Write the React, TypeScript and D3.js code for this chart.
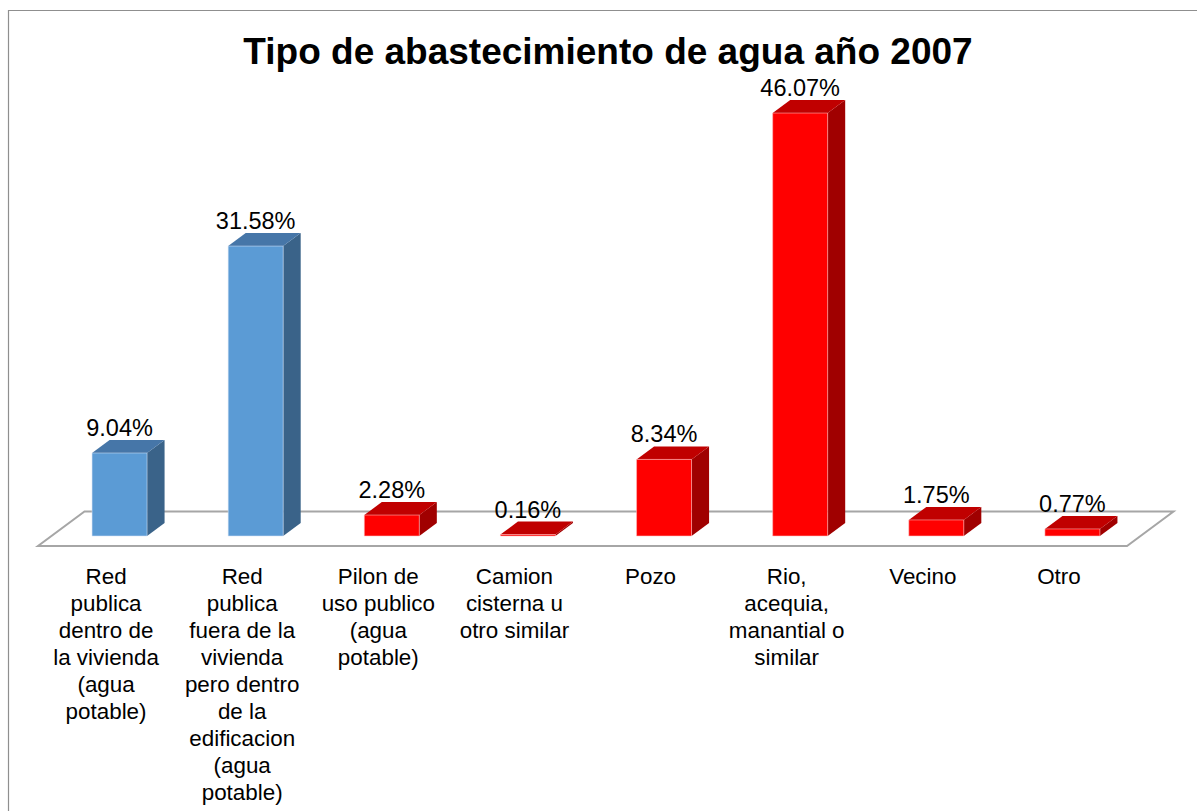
import * as d3 from 'd3'

const title = 'Tipo de abastecimiento de agua año 2007'

const categories = [
  'Red\npublica\ndentro de\nla vivienda\n(agua\npotable)',
  'Red\npublica\nfuera de la\nvivienda\npero dentro\nde la\nedificacion\n(agua\npotable)',
  'Pilon de\nuso publico\n(agua\npotable)',
  'Camion\ncisterna u\notro similar',
  'Pozo',
  'Rio,\nacequia,\nmanantial o\nsimilar',
  'Vecino',
  'Otro',
]

const values = [9.04, 31.58, 2.28, 0.16, 8.34, 46.07, 1.75, 0.77]

// first two are "red publica" (blue), the rest red
const groups = ['blue', 'blue', 'red', 'red', 'red', 'red', 'red', 'red']

const palette = {
  blue: { front: '#5B9BD5', top: '#4676A8', side: '#3A6389', edge: 'rgba(210,225,245,0.7)' },
  red: { front: '#FF0000', top: '#C00000', side: '#A00000', edge: 'rgba(255,190,190,0.7)' },
}

const W = 1197
const H = 811
const font = '"Liberation Sans", Arial, sans-serif'

export default function App() {
  // floor geometry
  const floorLeft = 38
  const floorRight = 1127
  const floorFront = 546
  const depthX = 46.5
  const depthY = -34.5
  // bar sits partway into the floor depth
  const barFrac = 0.29
  const barDepth = 0.377
  const shiftX = depthX * barFrac
  const baseY = floorFront + depthY * barFrac
  const bdx = depthX * barDepth
  const bdy = depthY * barDepth

  const x = d3.scaleBand<string>()
    .domain(categories)
    .range([floorLeft, floorRight])
    .paddingInner(0.596)
    .paddingOuter(0.298)

  const y = d3.scaleLinear().domain([0, 50]).range([baseY, baseY - 459])

  const step = x.step()
  const floorPath = d3.path()
  floorPath.moveTo(floorLeft, floorFront)
  floorPath.lineTo(floorRight, floorFront)
  floorPath.lineTo(floorRight + depthX, floorFront + depthY)
  floorPath.lineTo(floorLeft + depthX, floorFront + depthY)
  floorPath.closePath()

  return (
    <svg width={W} height={H} style={{ position: 'absolute', left: 0, top: 0, display: 'block' }}>
      <rect x={0} y={0} width={W} height={H} fill="#fff" />
      <path d={`M8.5,${H} V10.5 H${W}`} fill="none" stroke="#8f8f8f" strokeWidth={1.2} />

      <text x={608} y={64} textAnchor="middle" fontFamily={font} fontWeight="bold" fontSize={37} fill="#000">
        {title}
      </text>

      <path d={floorPath.toString()} fill="#fff" stroke="#a6a6a6" strokeWidth={2} strokeLinejoin="miter" />

      {categories.map((c, i) => {
        const col = palette[groups[i] as 'blue' | 'red']
        const x0 = (x(c) ?? 0) + shiftX
        const x1 = x0 + x.bandwidth()
        const yt = y(values[i])
        const yb = y(0)
        const front = `M${x0},${yb}H${x1}V${yt}H${x0}Z`
        const top = `M${x0},${yt}L${x0 + bdx},${yt + bdy}L${x1 + bdx},${yt + bdy}L${x1},${yt}Z`
        const side = `M${x1},${yb}L${x1 + bdx},${yb + bdy}L${x1 + bdx},${yt + bdy}L${x1},${yt}Z`
        return (
          <g key={c}>
            <path d={side} fill={col.side} />
            <path d={top} fill={col.top} />
            <path d={front} fill={col.front} stroke={col.edge} strokeWidth={0.8} />
          </g>
        )
      })}

      {categories.map((c, i) => {
        const cx = (x(c) ?? 0) + shiftX + x.bandwidth() / 2
        return (
          <text key={'v' + i} x={cx} y={y(values[i]) + bdy - 4} textAnchor="middle"
            fontFamily={font} fontSize={23.5} fill="#000">
            {values[i].toFixed(2) + '%'}
          </text>
        )
      })}

      {categories.map((c, i) => {
        const cx = floorLeft + step * (i + 0.5)
        const lines = c.split('\n')
        return (
          <text key={'c' + i} textAnchor="middle" fontFamily={font} fontSize={22.4} fill="#000">
            {lines.map((ln, j) => (
              <tspan key={j} x={cx} y={584 + j * 27}>{ln}</tspan>
            ))}
          </text>
        )
      })}
    </svg>
  )
}
